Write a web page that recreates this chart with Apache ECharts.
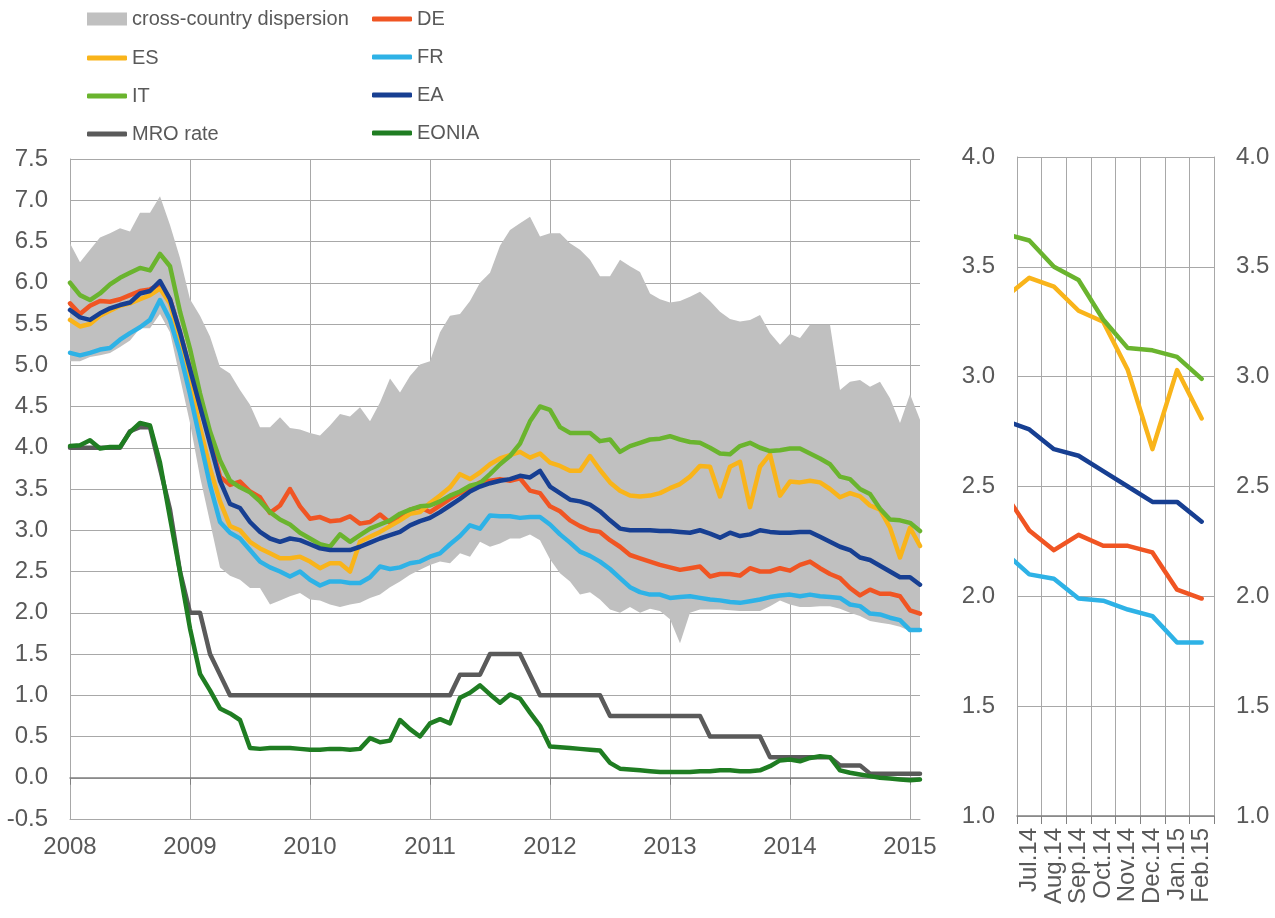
<!DOCTYPE html>
<html>
<head>
<meta charset="utf-8">
<title>Bank lending rates</title>
<script src="https://cdn.jsdelivr.net/npm/echarts@6/dist/echarts.min.js"></script>
<style>
  html, body { margin: 0; padding: 0; background: #fff; }
  #chart { width: 1275px; height: 918px; }
</style>
</head>
<body>
<div id="chart"></div>
<script>
// monthly observations, Jan 2008 - Feb 2015
const months = []
for (let y = 2008; y <= 2015; y++) {
  for (let m = 1; m <= 12; m++) {
    if (y === 2015 && m > 2) break
    months.push(y + '-' + String(m).padStart(2, '0'))
  }
}

const dispersionLow = [
  5.05, 5.05, 5.10, 5.12, 5.15, 5.22, 5.30, 5.45, 5.45, 5.62,
  5.40, 4.85, 4.30, 3.65, 3.10, 2.55, 2.45, 2.40, 2.30, 2.30,
  2.10, 2.15, 2.20, 2.24, 2.16, 2.15, 2.10, 2.07, 2.10, 2.12,
  2.18, 2.22, 2.31, 2.38, 2.46, 2.52, 2.58, 2.62, 2.60, 2.72,
  2.68, 2.86, 2.80, 2.84, 2.90, 2.90, 2.95, 2.88, 2.65, 2.48,
  2.38, 2.22, 2.25, 2.16, 2.04, 2.00, 2.07, 2.00, 2.05, 2.02,
  1.92, 1.63, 2.00, 2.04, 2.04, 2.04, 2.03, 2.02, 2.02, 2.02,
  2.08, 2.15, 2.10, 2.07, 2.07, 2.08, 2.08, 2.05, 2.00, 1.96,
  1.90, 1.88, 1.86, 1.83, 1.78, 1.77
]
const dispersionHigh = [
  6.48, 6.25, 6.40, 6.55, 6.60, 6.66, 6.62, 6.85, 6.85, 7.05,
  6.70, 6.30, 5.80, 5.60, 5.35, 4.98, 4.90, 4.70, 4.52, 4.25,
  4.25, 4.37, 4.24, 4.22, 4.18, 4.15, 4.27, 4.41, 4.38, 4.49,
  4.32, 4.55, 4.84, 4.67, 4.87, 5.01, 5.05, 5.40, 5.60, 5.62,
  5.78, 6.00, 6.12, 6.45, 6.64, 6.72, 6.80, 6.56, 6.60, 6.60,
  6.48, 6.40, 6.28, 6.08, 6.08, 6.28, 6.20, 6.13, 5.87, 5.80,
  5.76, 5.78, 5.83, 5.89, 5.78, 5.65, 5.56, 5.53, 5.55, 5.61,
  5.39, 5.25, 5.38, 5.33, 5.49, 5.49, 5.49, 4.70, 4.80, 4.82,
  4.74, 4.80, 4.60, 4.30, 4.65, 4.34
]
const de = [
  5.75, 5.62, 5.72, 5.78, 5.77, 5.80, 5.85, 5.90, 5.92, 5.98,
  5.80, 5.40, 4.95, 4.50, 4.10, 3.65, 3.55, 3.59, 3.47, 3.40,
  3.21, 3.30, 3.50, 3.29, 3.14, 3.16, 3.11, 3.12, 3.17, 3.08,
  3.10, 3.19, 3.09, 3.15, 3.25, 3.28, 3.22, 3.30, 3.38, 3.45,
  3.50, 3.58, 3.60, 3.62, 3.60, 3.63, 3.48, 3.45, 3.29, 3.23,
  3.12, 3.05, 3.00, 2.98, 2.88, 2.80, 2.70, 2.66, 2.62, 2.58,
  2.55, 2.52, 2.54, 2.56, 2.44, 2.47, 2.47, 2.45, 2.54, 2.50,
  2.50, 2.54, 2.51, 2.58, 2.62, 2.54, 2.47, 2.42, 2.30, 2.21,
  2.28, 2.23, 2.23, 2.20, 2.03, 1.99
]
const es = [
  5.55, 5.47, 5.50, 5.60, 5.66, 5.72, 5.75, 5.80, 5.85, 5.93,
  5.75, 5.30, 4.80, 4.25, 3.75, 3.35, 3.05, 3.00, 2.86, 2.78,
  2.72, 2.66, 2.66, 2.68, 2.62, 2.54, 2.60, 2.60, 2.50, 2.86,
  2.92, 2.98, 3.05, 3.12, 3.20, 3.22, 3.33, 3.42, 3.52, 3.68,
  3.62, 3.70, 3.80, 3.87, 3.91, 3.95, 3.88, 3.93, 3.82, 3.78,
  3.72, 3.72, 3.90, 3.73, 3.58, 3.48, 3.42, 3.41, 3.42, 3.45,
  3.51, 3.56, 3.65, 3.78, 3.77, 3.41, 3.77, 3.83, 3.28, 3.77,
  3.92, 3.42, 3.59, 3.58, 3.60, 3.58, 3.50, 3.40, 3.45, 3.41,
  3.30, 3.25, 3.03, 2.67, 3.03, 2.81
]
const fr = [
  5.15, 5.12, 5.15, 5.19, 5.21, 5.31, 5.39, 5.46, 5.55, 5.79,
  5.55, 5.15, 4.65, 4.10, 3.55, 3.10, 2.97, 2.90, 2.76, 2.62,
  2.55, 2.50, 2.44, 2.50, 2.40, 2.33, 2.38, 2.38, 2.36, 2.36,
  2.43, 2.56, 2.53, 2.55, 2.60, 2.62, 2.68, 2.72, 2.83, 2.93,
  3.06, 3.02, 3.18, 3.17, 3.17, 3.15, 3.16, 3.16, 3.07, 2.95,
  2.85, 2.74, 2.69, 2.62, 2.53, 2.42, 2.31, 2.25, 2.22, 2.22,
  2.18, 2.19, 2.20, 2.18, 2.16, 2.15, 2.13, 2.12, 2.14, 2.16,
  2.19, 2.21, 2.22, 2.20, 2.22, 2.20, 2.19, 2.18, 2.10, 2.08,
  1.99, 1.98, 1.94, 1.91, 1.79, 1.79
]
const it = [
  6.00, 5.85, 5.79, 5.87, 5.98, 6.06, 6.12, 6.18, 6.15, 6.35,
  6.20, 5.65, 5.20, 4.66, 4.20, 3.85, 3.60, 3.52, 3.46, 3.35,
  3.22, 3.13, 3.07, 2.97, 2.90, 2.83, 2.80, 2.95, 2.86, 2.94,
  3.02, 3.07, 3.12, 3.20, 3.25, 3.29, 3.30, 3.35, 3.42, 3.47,
  3.54, 3.57, 3.68, 3.80, 3.90, 4.05, 4.32, 4.50, 4.46, 4.25,
  4.18, 4.18, 4.18, 4.08, 4.10, 3.95, 4.02, 4.06, 4.10, 4.11,
  4.14, 4.10, 4.07, 4.06, 4.00, 3.93, 3.92, 4.02, 4.06, 4.00,
  3.96, 3.97, 3.99, 3.99, 3.93, 3.87, 3.80, 3.65, 3.62, 3.50,
  3.44, 3.26, 3.13, 3.12, 3.09, 2.99
]
const ea = [
  5.67, 5.58, 5.55, 5.63, 5.69, 5.73, 5.76, 5.87, 5.90, 6.02,
  5.80, 5.40, 4.95, 4.50, 4.05, 3.60, 3.32, 3.27, 3.10, 2.98,
  2.90, 2.86, 2.90, 2.88, 2.83, 2.78, 2.76, 2.76, 2.76, 2.80,
  2.85, 2.90, 2.94, 2.98, 3.06, 3.11, 3.15, 3.22, 3.30, 3.38,
  3.47, 3.53, 3.57, 3.60, 3.62, 3.66, 3.64, 3.72, 3.53, 3.45,
  3.37, 3.35, 3.31, 3.23, 3.12, 3.02, 3.00, 3.00, 3.00, 2.99,
  2.99, 2.98, 2.97, 3.00, 2.96, 2.91, 2.97, 2.93, 2.95, 3.00,
  2.98, 2.97, 2.97, 2.98, 2.98, 2.92, 2.86, 2.80, 2.76, 2.67,
  2.64, 2.57, 2.50, 2.43, 2.43, 2.34
]
const mro = [
  4.00, 4.00, 4.00, 4.00, 4.00, 4.00, 4.20, 4.25, 4.25, 3.75,
  3.25, 2.50, 2.00, 2.00, 1.50, 1.25, 1.00, 1.00, 1.00, 1.00,
  1.00, 1.00, 1.00, 1.00, 1.00, 1.00, 1.00, 1.00, 1.00, 1.00,
  1.00, 1.00, 1.00, 1.00, 1.00, 1.00, 1.00, 1.00, 1.00, 1.25,
  1.25, 1.25, 1.50, 1.50, 1.50, 1.50, 1.25, 1.00, 1.00, 1.00,
  1.00, 1.00, 1.00, 1.00, 0.75, 0.75, 0.75, 0.75, 0.75, 0.75,
  0.75, 0.75, 0.75, 0.75, 0.50, 0.50, 0.50, 0.50, 0.50, 0.50,
  0.25, 0.25, 0.25, 0.25, 0.25, 0.25, 0.25, 0.15, 0.15, 0.15,
  0.05, 0.05, 0.05, 0.05, 0.05, 0.05
]
const eonia = [
  4.02, 4.03, 4.09, 3.99, 4.01, 4.01, 4.19, 4.30, 4.27, 3.82,
  3.15, 2.49, 1.81, 1.26, 1.06, 0.84, 0.78, 0.70, 0.36, 0.35,
  0.36, 0.36, 0.36, 0.35, 0.34, 0.34, 0.35, 0.35, 0.34, 0.35,
  0.48, 0.43, 0.45, 0.70, 0.59, 0.50, 0.66, 0.71, 0.66, 0.97,
  1.03, 1.12, 1.01, 0.91, 1.01, 0.96, 0.79, 0.63, 0.38, 0.37,
  0.36, 0.35, 0.34, 0.33, 0.18, 0.11, 0.10, 0.09, 0.08, 0.07,
  0.07, 0.07, 0.07, 0.08, 0.08, 0.09, 0.09, 0.08, 0.08, 0.09,
  0.14, 0.21, 0.22, 0.20, 0.24, 0.26, 0.25, 0.09, 0.06, 0.04,
  0.02, 0.00, -0.01, -0.02, -0.03, -0.02
]

// zoom panel: Jun.14 sits half a month left of the clipped edge
const zoomMonths = ['Jul.14', 'Aug.14', 'Sep.14', 'Oct.14', 'Nov.14', 'Dec.14', 'Jan.15', 'Feb.15']
const zoomPos = [-0.5, 0.5, 1.5, 2.5, 3.5, 4.5, 5.5, 6.5, 7.5]
const zoomIT = [3.65, 3.62, 3.50, 3.44, 3.26, 3.13, 3.12, 3.09, 2.99]
const zoomES = [3.36, 3.45, 3.41, 3.30, 3.25, 3.03, 2.67, 3.03, 2.81]
const zoomEA = [2.80, 2.76, 2.67, 2.64, 2.57, 2.50, 2.43, 2.43, 2.34]
const zoomDE = [2.47, 2.30, 2.21, 2.28, 2.23, 2.23, 2.20, 2.03, 1.99]
const zoomFR = [2.20, 2.10, 2.08, 1.99, 1.98, 1.94, 1.91, 1.79, 1.79]

const colors = {
  band: '#c0c0c0',
  DE: '#f05523',
  ES: '#f9b41a',
  FR: '#2eb2e6',
  IT: '#6ab42e',
  EA: '#173f92',
  MRO: '#5a5a5a',
  EONIA: '#1f7d22'
}
const textColor = '#595959'
const gridColor = '#a8a8a8'
const axisColor = '#808080'
const fontFamily = '"Liberation Sans", Arial, sans-serif'

const lineSeries = (name, data, color, xi, yi) => ({
  name,
  type: 'line',
  data,
  xAxisIndex: xi,
  yAxisIndex: yi,
  symbol: 'none',
  silent: true,
  itemStyle: { color },
  lineStyle: { width: 4.5, color, cap: 'round', join: 'round' }
})

const zoomData = vals => zoomPos.map((p, i) => [p, vals[i]])

const legendText = { fontSize: 20, color: textColor, fontFamily }

const chart = echarts.init(document.getElementById('chart'))

const option = {
  animation: false,
  backgroundColor: '#fff',
  textStyle: { fontFamily },
  legend: [
    {
      left: 82, top: 4, itemWidth: 40, itemHeight: 13, selectedMode: false,
      textStyle: legendText,
      data: [{ name: 'cross-country dispersion', icon: 'rect' }]
    },
    {
      left: 82, top: 43, orient: 'vertical', itemGap: 18,
      itemWidth: 40, itemHeight: 5, selectedMode: false,
      textStyle: legendText,
      data: ['ES', 'IT', 'MRO rate'].map(name => ({ name, icon: 'roundRect' }))
    },
    {
      left: 367, top: 4, orient: 'vertical', itemGap: 18,
      itemWidth: 40, itemHeight: 5, selectedMode: false,
      textStyle: legendText,
      data: ['DE', 'FR', 'EA', 'EONIA'].map(name => ({ name, icon: 'roundRect' }))
    }
  ],
  grid: [
    { left: 70, top: 159, width: 850, height: 660 },
    { left: 1017, top: 157, width: 197, height: 659 }
  ],
  xAxis: [
    {
      type: 'category', gridIndex: 0, data: months, boundaryGap: false,
      axisLine: { onZero: false, lineStyle: { color: gridColor } },
      axisTick: { show: false },
      axisLabel: {
        interval: 11, margin: 16, fontSize: 24, color: textColor,
        formatter: v => v.slice(0, 4)
      },
      splitLine: { show: true, interval: 11, lineStyle: { color: gridColor, width: 1 } }
    },
    {
      // zero line with year ticks
      type: 'category', gridIndex: 0, data: months, boundaryGap: false, position: 'top',
      axisLine: { onZero: true, lineStyle: { color: axisColor, width: 1.5 } },
      axisTick: { show: true, inside: true, interval: 11, length: 7, lineStyle: { color: axisColor } },
      axisLabel: { show: false },
      splitLine: { show: false }
    },
    {
      type: 'category', gridIndex: 1, data: zoomMonths, boundaryGap: true,
      axisLine: { lineStyle: { color: axisColor, width: 1.5 } },
      axisTick: { show: true, length: 8, lineStyle: { color: axisColor } },
      axisLabel: { interval: 0, rotate: 90, margin: 12, fontSize: 24, color: textColor },
      splitLine: { show: true, lineStyle: { color: gridColor, width: 1 } }
    },
    { type: 'value', gridIndex: 1, min: 0, max: 8, show: false }
  ],
  yAxis: [
    {
      type: 'value', gridIndex: 0, min: -0.5, max: 7.5, interval: 0.5,
      axisLine: { show: true, lineStyle: { color: gridColor } },
      axisTick: { show: false },
      axisLabel: { margin: 22, fontSize: 24, color: textColor, formatter: v => v.toFixed(1) },
      splitLine: { lineStyle: { color: gridColor, width: 1 } }
    },
    {
      type: 'value', gridIndex: 1, min: 1, max: 4, interval: 0.5, position: 'left',
      axisLine: { show: true, lineStyle: { color: gridColor } },
      axisTick: { show: false },
      axisLabel: { margin: 22, fontSize: 24, color: textColor, formatter: v => v.toFixed(1) },
      splitLine: { lineStyle: { color: gridColor, width: 1 } }
    },
    {
      type: 'value', gridIndex: 1, min: 1, max: 4, interval: 0.5, position: 'right',
      axisLine: { show: true, lineStyle: { color: gridColor } },
      axisTick: { show: false },
      axisLabel: { margin: 22, fontSize: 24, color: textColor, formatter: v => v.toFixed(1) },
      splitLine: { show: false }
    }
  ],
  series: [
    {
      name: 'band-base', type: 'line', data: dispersionLow, stack: 'band',
      xAxisIndex: 0, yAxisIndex: 0, symbol: 'none', silent: true,
      lineStyle: { width: 0, opacity: 0 }
    },
    {
      name: 'cross-country dispersion', type: 'line', stack: 'band',
      data: dispersionHigh.map((v, i) => +(v - dispersionLow[i]).toFixed(2)),
      xAxisIndex: 0, yAxisIndex: 0, symbol: 'none', silent: true,
      itemStyle: { color: colors.band },
      lineStyle: { width: 0, opacity: 0 },
      areaStyle: { color: colors.band, opacity: 1 }
    },
    lineSeries('DE', de, colors.DE, 0, 0),
    lineSeries('ES', es, colors.ES, 0, 0),
    lineSeries('FR', fr, colors.FR, 0, 0),
    lineSeries('IT', it, colors.IT, 0, 0),
    lineSeries('EA', ea, colors.EA, 0, 0),
    lineSeries('MRO rate', mro, colors.MRO, 0, 0),
    lineSeries('EONIA', eonia, colors.EONIA, 0, 0),
    lineSeries('DE', zoomData(zoomDE), colors.DE, 3, 1),
    lineSeries('ES', zoomData(zoomES), colors.ES, 3, 1),
    lineSeries('FR', zoomData(zoomFR), colors.FR, 3, 1),
    lineSeries('IT', zoomData(zoomIT), colors.IT, 3, 1),
    lineSeries('EA', zoomData(zoomEA), colors.EA, 3, 1)
  ]
}

chart.setOption(option)
</script>
</body>
</html>
